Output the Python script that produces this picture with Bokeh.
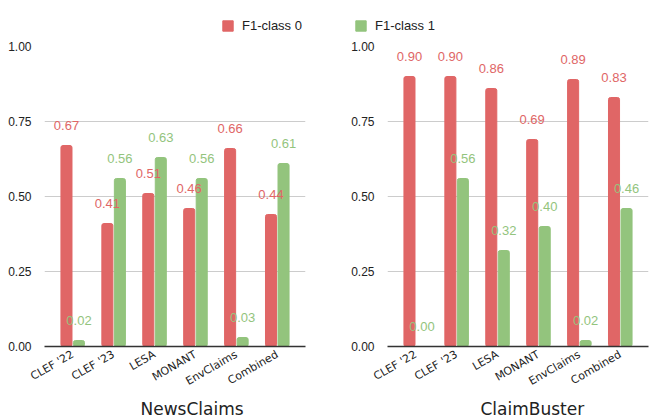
from math import pi
from bokeh.plotting import figure
from bokeh.models import (ColumnDataSource, FactorRange, Range1d, FixedTicker,
                          NumeralTickFormatter, LabelSet, Legend, LegendItem, Title)
from bokeh.transform import dodge
from bokeh.layouts import row, column
from bokeh.core.properties import value
from bokeh.embed import file_html
from bokeh.resources import INLINE

categories = ["CLEF '22", "CLEF '23", "LESA", "MONANT", "EnvClaims", "Combined"]
news_f1_class0 = [0.67, 0.41, 0.51, 0.46, 0.66, 0.44]
news_f1_class1 = [0.02, 0.56, 0.63, 0.56, 0.03, 0.61]
buster_f1_class0 = [0.90, 0.90, 0.86, 0.69, 0.89, 0.83]
buster_f1_class1 = [0.00, 0.56, 0.32, 0.40, 0.02, 0.46]
y_ticks = [0, 0.25, 0.5, 0.75, 1.0]
series_names = ["F1-class 0", "F1-class 1"]
colors = ["#E06666", "#93C47D"]
panel_titles = ["NewsClaims", "ClaimBuster"]

OFF = 0.153
BW = 0.27
TOP_H = 34


def make_panel(name, v0, v1, border_left, border_right, title_offset):
    src = ColumnDataSource(dict(
        cat=categories, v0=v0, v1=v1,
        l0=[f"{v:.2f}" for v in v0], l1=[f"{v:.2f}" for v in v1]))
    p = figure(x_range=FactorRange(factors=categories, range_padding=0.0633),
               y_range=Range1d(0, 1.0), frame_width=261, frame_height=300,
               output_backend="svg", toolbar_location=None,
               min_border_left=border_left, min_border_right=border_right,
               min_border_top=46 - TOP_H, min_border_bottom=60)
    p.outline_line_color = None
    p.background_fill_color = "white"

    p.vbar(x=dodge("cat", -OFF, range=p.x_range), top="v0", width=BW,
           source=src, color=colors[0], border_radius=2)
    p.vbar(x=dodge("cat", OFF, range=p.x_range), top="v1", width=BW,
           source=src, color=colors[1], border_radius=2)

    for key, lab, off, col in (("v0", "l0", -OFF, colors[0]), ("v1", "l1", OFF, colors[1])):
        ls = LabelSet(x=dodge("cat", off, range=p.x_range), y=key, text=lab, source=src,
                      text_align="center", text_baseline="alphabetic", y_offset=16,
                      text_font=value("Liberation Sans"), text_font_size="13px",
                      text_color=col)
        p.add_layout(ls)

    p.yaxis.ticker = FixedTicker(ticks=y_ticks)
    p.yaxis.formatter = NumeralTickFormatter(format="0.00")
    p.yaxis.axis_line_color = None
    p.yaxis.major_tick_line_color = None
    p.yaxis.minor_tick_line_color = None
    p.yaxis.major_label_standoff = 7
    p.yaxis.major_label_text_font = "Liberation Sans"
    p.yaxis.major_label_text_font_size = "12px"
    p.yaxis.major_label_text_color = "#222222"

    p.xaxis.major_label_orientation = pi / 6
    p.xaxis.major_label_text_font = "DejaVu Sans"
    p.xaxis.major_label_text_font_size = "11px"
    p.xaxis.major_label_text_color = "#222222"
    p.xaxis.major_tick_line_color = None
    p.xaxis.minor_tick_line_color = None
    p.xaxis.axis_line_color = "#333333"
    p.xaxis.axis_line_width = 1.3
    p.xaxis.major_label_standoff = 1

    p.xgrid.visible = False
    p.ygrid.ticker = FixedTicker(ticks=y_ticks)
    p.ygrid.grid_line_color = "#cccccc"

    t = Title(text=name, align="left", offset=title_offset, standoff=0,
              text_font="DejaVu Sans", text_font_size="17px",
              text_font_style="normal", text_color="#222222")
    p.add_layout(t, "below")
    return p


left = make_panel(panel_titles[0], news_f1_class0, news_f1_class1, 44, 43, 96)
right = make_panel(panel_titles[1], buster_f1_class0, buster_f1_class1, 36, 19, 93)

# shared legend strip across the top (legend proxies are hidden, zero-height)
lg = figure(width=664, height=TOP_H, x_range=Range1d(0, 1), y_range=Range1d(0, 1),
            x_axis_type=None, y_axis_type=None, output_backend="svg",
            toolbar_location=None, min_border=0)
lg.outline_line_color = None
lg.grid.visible = False
legend_x = [221, 354]
for i, name in enumerate(series_names):
    proxy = ColumnDataSource(dict(x=[0.0], top=[0.0]))
    r = lg.vbar(x="x", top="top", width=0.0, source=proxy, color=colors[i])
    r.visible = False
    leg = Legend(items=[LegendItem(label=name, renderers=[r])],
                 location=(legend_x[i], 1), orientation="horizontal",
                 glyph_width=13, glyph_height=13, label_standoff=8,
                 label_height=13, padding=0, margin=0, spacing=0,
                 border_line_alpha=0, background_fill_alpha=0,
                 inactive_fill_alpha=0,
                 label_text_font="Liberation Sans", label_text_font_size="13px",
                 label_text_color="#222222")
    lg.add_layout(leg)

layout = column(lg, row(left, right))
open("out.html", "w").write(file_html(layout, INLINE))
